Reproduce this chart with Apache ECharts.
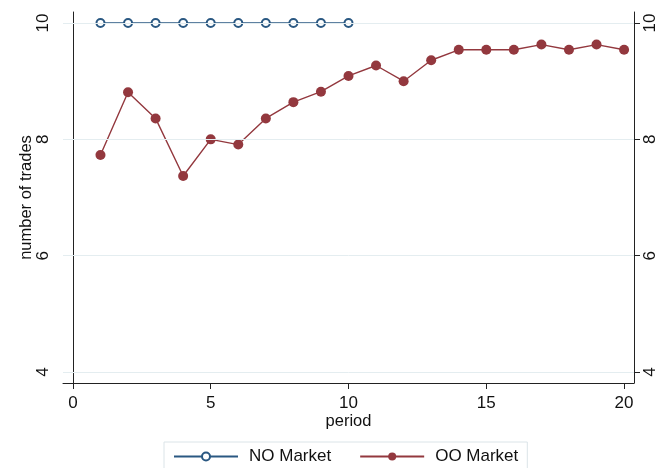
<!DOCTYPE html>
<html>
<head>
<meta charset="utf-8">
<script src="https://cdn.jsdelivr.net/npm/echarts@6/dist/echarts.min.js"></script>
<style>html,body{margin:0;padding:0;background:#fff;}#c{width:661px;height:468px;}</style>
</head>
<body>
<div id="c"></div>
<script>
var periods = [1,2,3,4,5,6,7,8,9,10,11,12,13,14,15,16,17,18,19,20];
var noPeriods = [1,2,3,4,5,6,7,8,9,10];
var noMarket = [10,10,10,10,10,10,10,10,10,10];
var ooMarket = [7.73,8.81,8.36,7.37,8.0,7.91,8.36,8.64,8.82,9.09,9.27,9.0,9.36,9.54,9.54,9.54,9.63,9.54,9.63,9.54];
var xTicks = [0,5,10,15,20];
var yTicks = [4,6,8,10];

var font = 'Liberation Sans, Arial, Helvetica, sans-serif';
var navy = '#2a5882';
var maroon = '#93383e';
var gridColor = '#e4edf0';

var chart = echarts.init(document.getElementById('c'), null, {renderer: 'canvas'});
var option = {
  animation: false,
  backgroundColor: '#fff',
  textStyle: {fontFamily: font},
  grid: {left: 63, right: 27, top: 12, bottom: 85},
  legend: {
    left: 164, top: 442,
    orient: 'horizontal',
    borderColor: '#dbe4e8', borderWidth: 1,
    padding: [6, 9, 30, 9],
    itemWidth: 64, itemHeight: 10, itemGap: 28,
    textStyle: {fontSize: 17, color: '#111', fontFamily: font, padding: [0, 0, 0, 6]},
    data: ['NO Market', 'OO Market']
  },
  xAxis: {
    type: 'value', min: -0.36, max: 20.36,
    name: 'period', nameLocation: 'middle', nameGap: 30, nameMoveOverlap: false,
    nameTextStyle: {fontSize: 16.5, color: '#111', fontFamily: font},
    axisLine: {show: true, lineStyle: {color: '#222', width: 1}},
    axisTick: {show: true, length: 6, customValues: xTicks, lineStyle: {color: '#222'}},
    axisLabel: {customValues: xTicks, fontSize: 17, color: '#111', margin: 12, fontFamily: font},
    splitLine: {show: false}
  },
  yAxis: [{
    type: 'value', min: 3.81, max: 10.19, position: 'left',
    name: 'number of trades', nameLocation: 'middle', nameGap: 28, nameMoveOverlap: false,
    nameTextStyle: {fontSize: 16.5, color: '#111', fontFamily: font},
    axisLine: {show: true, lineStyle: {color: '#222', width: 1}},
    axisTick: {show: true, length: 6, customValues: yTicks, lineStyle: {color: '#222'}},
    axisLabel: {customValues: yTicks, rotate: 90, fontSize: 17, color: '#111', margin: 11, fontFamily: font},
    splitLine: {show: false}
  }, {
    type: 'value', min: 3.81, max: 10.19, position: 'right',
    axisLine: {show: true, lineStyle: {color: '#222', width: 1}},
    axisTick: {show: true, length: 6, customValues: yTicks, lineStyle: {color: '#222'}},
    axisLabel: {customValues: yTicks, rotate: 90, fontSize: 17, color: '#111', margin: 8, fontFamily: font},
    splitLine: {show: false}
  }],
  series: [{
    name: 'grid', type: 'line', data: [], silent: true,
    markLine: {
      silent: true, symbol: 'none', label: {show: false},
      lineStyle: {color: gridColor, width: 1, type: 'solid'},
      data: yTicks.map(function (v) { return {yAxis: v}; })
    }
  }, {
    name: 'NO Market', type: 'line',
    data: noPeriods.map(function (p, i) { return [p, noMarket[i]]; }),
    symbol: 'emptyCircle', symbolSize: 8,
    lineStyle: {color: navy, width: 1.4},
    itemStyle: {color: navy, borderColor: navy, borderWidth: 1.4},
    z: 3
  }, {
    name: 'OO Market', type: 'line',
    data: periods.map(function (p, i) { return [p, ooMarket[i]]; }),
    symbol: 'circle', symbolSize: 10,
    lineStyle: {color: maroon, width: 1.4},
    itemStyle: {color: maroon},
    z: 3
  }]
};
chart.setOption(option);
</script>
</body>
</html>
